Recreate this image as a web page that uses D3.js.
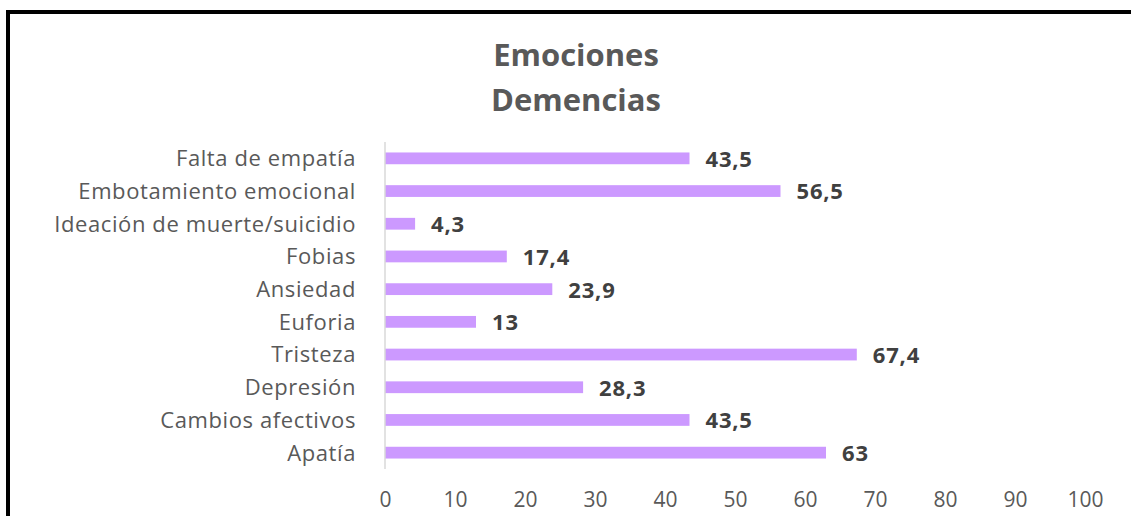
<!DOCTYPE html>
<html><head><meta charset="utf-8">
<script src="https://cdn.jsdelivr.net/npm/d3@7"></script>
<style>body{margin:0;background:#fff;}svg{display:block;}</style>
</head><body>
<svg id="c" width="1131" height="516"></svg>
<script>
const categories = ["Falta de empatía","Embotamiento emocional","Ideación de muerte/suicidio","Fobias","Ansiedad","Euforia","Tristeza","Depresión","Cambios afectivos","Apatía"];
const values = [43.5,56.5,4.3,17.4,23.9,13,67.4,28.3,43.5,63];
const valueLabels = ["43,5","56,5","4,3","17,4","23,9","13","67,4","28,3","43,5","63"];
const xTicks = [0,10,20,30,40,50,60,70,80,90,100];
const titleLines = ["Emociones","Demencias"];

const svg = d3.select("#c");
const font = "Open Sans, Noto Sans, sans-serif";

// border
svg.append("path").attr("d","M8,518 L8,12 L1133,12").attr("fill","none").attr("stroke","#000").attr("stroke-width",4);

const x = d3.scaleLinear().domain([0,100]).range([385,1085]);
const y = d3.scaleBand().domain(categories).range([142,469]).paddingInner(0.64).paddingOuter(0.32);

svg.append("g").selectAll("text").data(titleLines).join("text")
  .attr("x",576).attr("y",(d,i)=>66+i*45).attr("text-anchor","middle")
  .attr("font-family",font).attr("font-weight","bold").attr("font-size",31).attr("fill","#595959").text(d=>d);

svg.append("g").selectAll("rect").data(values).join("rect")
  .attr("x",x(0)).attr("y",(d,i)=>y(categories[i])).attr("width",d=>x(d)-x(0)).attr("height",y.bandwidth())
  .attr("fill","#CC99FF");

svg.append("line").attr("x1",x(0)).attr("x2",x(0)).attr("y1",142).attr("y2",469).attr("stroke","#d9d9d9").attr("stroke-width",1.5);

svg.append("g").selectAll("text").data(categories).join("text")
  .attr("x",356).attr("y",d=>y(d)+y.bandwidth()/2).attr("dy","0.36em").attr("text-anchor","end")
  .attr("font-family",font).attr("font-size",22).attr("letter-spacing",0.6).attr("fill","#595959").text(d=>d);

svg.append("g").selectAll("text").data(values).join("text")
  .attr("x",d=>x(d)+16).attr("y",(d,i)=>y(categories[i])+y.bandwidth()/2).attr("dy","0.38em")
  .attr("font-family",font).attr("font-weight","bold").attr("font-size",22).attr("letter-spacing",0.8).attr("fill","#404040").text((d,i)=>valueLabels[i]);

const ax = svg.append("g").attr("transform","translate(0,507)")
  .call(d3.axisBottom(x).tickValues(xTicks).tickSize(0).tickPadding(0).tickFormat(d3.format("d")));
ax.select(".domain").remove();
ax.selectAll("text").attr("font-family",font).attr("font-size",21).attr("fill","#595959").attr("dy","0");
</script>
</body></html>
